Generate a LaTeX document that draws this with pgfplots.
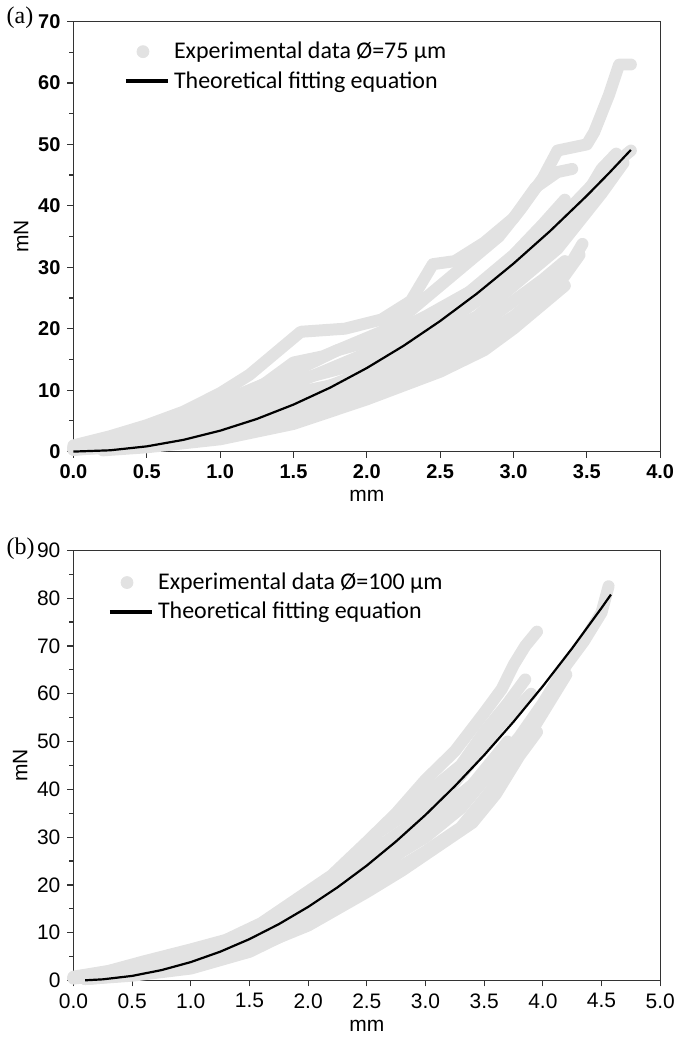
\documentclass[border=0pt]{standalone}
\usepackage{fontspec}
\setmainfont{Liberation Sans}
\newfontfamily\legfont{Carlito}
\newfontfamily\tagfont{Liberation Serif}
\usepackage{pgfplots}
\pgfplotsset{compat=1.18}

\definecolor{expgrey}{HTML}{E2E2E2}

\pgfplotsset{
  panel/.style={
    scale only axis, width=294pt, height=215.5pt,
    axis line style={black!80, line width=0.6pt},
    tick align=outside, tick pos=left,
    major tick length=3pt, minor tick length=2pt,
    minor y tick num=1,
    tick style={black!80, line width=0.6pt},
    xmin=0, ymin=0,
    /pgf/number format/assume math mode=true,
    xticklabel style={/pgf/number format/fixed, /pgf/number format/fixed zerofill,
                      /pgf/number format/precision=1},
    label style={font=\fontsize{10.5}{12}\selectfont},
    xlabel={mm}, ylabel={mN},
    xlabel style={yshift=1pt}, ylabel style={yshift=-2pt},
    legend style={draw=none, fill=none, anchor=north west,
                  font=\legfont\fontsize{12}{14}\selectfont, row sep=1pt,
                  nodes={inner sep=2pt}},
    legend cell align=left,
    clip=false,
  },
  exp/.style={expgrey, line width=6pt, line join=round, line cap=round, forget plot},
  fit/.style={black, line width=1.1pt,
              legend image code/.code={\draw[black, line width=2.2pt] (0pt,0pt) -- (21pt,0pt);}},
}

\begin{document}
\begin{tikzpicture}

% ---------- (a) 75 um ----------
\begin{axis}[panel, name=A, at={(0,265pt)}, anchor=south west,
  xmax=4.0, ymax=70, xtick={0,0.5,...,4.0}, ytick={0,10,...,70},
  tick label style={font=\bfseries\fontsize{10}{12}\selectfont},
  legend style={at={(0,1)}, xshift=22pt, yshift=-6pt},
]
\addplot[exp] coordinates {(0,1)(0.25,2.5)(0.5,4.3)(0.75,6.5)(1.0,9.5)(1.2,12.5)(1.4,16.5)(1.55,19.5)(1.85,20)(2.1,21.5)(2.3,24.5)(2.45,30.5)(2.6,31)(2.8,34)(3.0,38)(3.15,43)(3.3,45.5)(3.4,46)};
\addplot[exp] coordinates {(0,0.8)(0.5,3.5)(1.0,7.5)(1.3,11)(1.5,14.5)(1.7,15.5)(1.9,17.5)(2.1,19.5)(2.3,23)(2.5,27)(2.7,31)(2.9,35)(3.05,39.5)(3.2,44.5)(3.3,49)(3.5,50)(3.55,52)(3.65,58)(3.72,63)(3.8,63)};
\addplot[exp] coordinates {(0,0.5)(0.5,2.5)(1.0,6)(1.3,9)(1.6,12)(2.0,16)(2.3,19.5)(2.5,23)(2.8,27)(3.0,30)(3.2,35)(3.4,40)(3.6,45)(3.8,49)};
\addplot[exp] coordinates {(0,0.3)(0.5,1.2)(1.0,3)(1.5,6)(2.0,10)(2.5,15)(2.8,19)(3.0,22)(3.2,26)(3.4,31)(3.47,33.8)};
\addplot[exp] coordinates {(0.2,0.2)(0.5,0.7)(1.0,2)(1.5,4.5)(2.0,8.5)(2.5,13)(2.8,16.5)(3.0,20)(3.2,24)(3.35,27)};
\addplot[exp] coordinates {(0,0.5)(0.5,2)(1.0,5)(1.5,9.5)(1.8,11)(2.0,13.5)(2.3,17)(2.6,22)(2.9,27)(3.1,30)(3.3,36)(3.45,40)(3.6,46)(3.7,48.5)};
\addplot[exp] coordinates {(0,0.6)(0.5,3)(1.0,7)(1.5,11.5)(1.9,14)(2.3,19)(2.6,24)(2.8,28)(3.0,32)(3.2,37)(3.35,41)};
\addplot[exp] coordinates {(0,0.4)(0.5,1.5)(1.0,3.8)(1.5,7)(2.0,11.5)(2.5,17)(2.8,21)(3.0,24.5)(3.2,28)(3.35,31)};
\addplot[exp] coordinates {(0,0.3)(0.5,1)(1.0,2.5)(1.5,5.2)(2.0,9.2)(2.3,11.5)(2.6,15)(2.9,19)(3.1,22.5)(3.3,27)(3.45,32)};
\addplot[exp] coordinates {(0,0.7)(0.5,3.2)(1.0,8)(1.25,10.5)(1.5,13)(1.8,16.5)(2.1,18.5)(2.4,22)(2.7,26)(3.0,30)(3.2,33)};
\addplot[exp] coordinates {(0,0.3)(0.5,1.6)(1.0,4.5)(1.5,8.5)(2.0,13)(2.5,19)(2.75,22)(3.0,27)(3.3,33)(3.6,42)(3.75,47)};
\addlegendimage{only marks, mark=*, mark size=3pt, expgrey}
\addlegendentry{Experimental data Ø=75 µm}
\addplot[fit] coordinates {(0,0)(0.25,0.21)(0.5,0.85)(0.75,1.91)(1.0,3.4)(1.25,5.31)(1.5,7.65)(1.75,10.41)(2.0,13.6)(2.25,17.21)(2.5,21.25)(2.75,25.71)(3.0,30.6)(3.25,35.91)(3.5,41.65)(3.65,45.3)(3.8,49.1)};
\addlegendentry{Theoretical fitting equation}
\end{axis}
\node[font=\tagfont\fontsize{12}{12}\selectfont, anchor=west] at ([xshift=-37pt,yshift=2pt]A.north west) {(a)};

% ---------- (b) 100 um ----------
\begin{axis}[panel, name=B, at={(0,0)}, anchor=south west,
  xmax=5.0, ymax=90, xtick={0,0.5,...,5.0}, ytick={0,10,...,90},
  tick label style={font=\fontsize{10.5}{12}\selectfont},
  legend style={at={(0,1)}, xshift=14pt, yshift=-7pt},
]
\addplot[exp] coordinates {(0,0.8)(0.3,2)(0.6,4)(1.0,6.5)(1.3,8.5)(1.6,12)(1.9,17)(2.2,22)(2.5,29)(2.75,35)(3.0,42)(3.25,48)(3.5,56)(3.65,61)(3.75,66)(3.85,70)(3.95,73)};
\addplot[exp] coordinates {(0,0.5)(0.5,2.5)(1.0,5.5)(1.5,9.5)(1.8,14)(2.1,19)(2.4,25)(2.6,31)(2.9,36)(3.1,41)(3.3,45)(3.5,52)(3.7,58)(3.85,63)};
\addplot[exp] coordinates {(0,0.4)(0.5,1.8)(1.0,4.8)(1.5,9.5)(2.0,16.5)(2.5,26)(2.8,31)(3.0,35.5)(3.3,43)(3.5,50)(3.7,55)(3.9,60)};
\addplot[exp] coordinates {(0.1,0.3)(0.5,1)(1.0,2.5)(1.5,6)(2.0,12)(2.3,16)(2.5,20)(2.8,24)(3.0,27)(3.3,32)(3.5,38)(3.75,46)(4.0,56)(4.2,64)};
\addplot[exp] coordinates {(0.1,0.3)(0.5,1.3)(1.0,3.2)(1.5,7.5)(2.0,13)(2.5,21.5)(2.8,27)(3.0,30)(3.3,36)(3.5,42)(3.8,50)(4.0,57)};
\addplot[exp] coordinates {(0,0.5)(0.5,1.5)(1.0,3.8)(1.5,8)(2.0,14)(2.5,22)(3.0,31)(3.5,42)(3.8,51)(4.0,58)(4.2,66)(4.35,71)(4.5,77)(4.56,82.5)};
\addplot[exp] coordinates {(0,0.6)(0.5,2.8)(1.0,6)(1.5,10)(2.0,16)(2.3,21)(2.6,28)(2.9,33)(3.2,40)(3.4,46)(3.6,52)};
\addplot[exp] coordinates {(0.1,0.3)(0.5,1.2)(1.0,3)(1.5,6.5)(2.0,11.5)(2.5,18.5)(2.8,23)(3.1,28)(3.4,33)(3.6,39)(3.8,47)(3.95,52)};
\addplot[exp] coordinates {(0,0.5)(0.5,2)(1.0,5)(1.5,8.5)(1.8,11.5)(2.2,17)(2.5,23)(2.8,29)(3.1,35)(3.4,41)(3.7,50)};
\addlegendimage{only marks, mark=*, mark size=3pt, expgrey}
\addlegendentry{Experimental data Ø=100 µm}
\addplot[fit] coordinates {(0.1,0.04)(0.25,0.24)(0.5,0.96)(0.75,2.17)(1.0,3.85)(1.25,6.02)(1.5,8.66)(1.75,11.79)(2.0,15.4)(2.25,19.49)(2.5,24.06)(2.75,29.12)(3.0,34.65)(3.25,40.67)(3.5,47.16)(3.75,54.14)(4.0,61.6)(4.25,69.54)(4.5,77.96)(4.58,80.76)};
\addlegendentry{Theoretical fitting equation}
\end{axis}
\node[font=\tagfont\fontsize{12}{12}\selectfont, anchor=west] at ([xshift=-37pt,yshift=1pt]B.north west) {(b)};

\end{tikzpicture}
\end{document}
